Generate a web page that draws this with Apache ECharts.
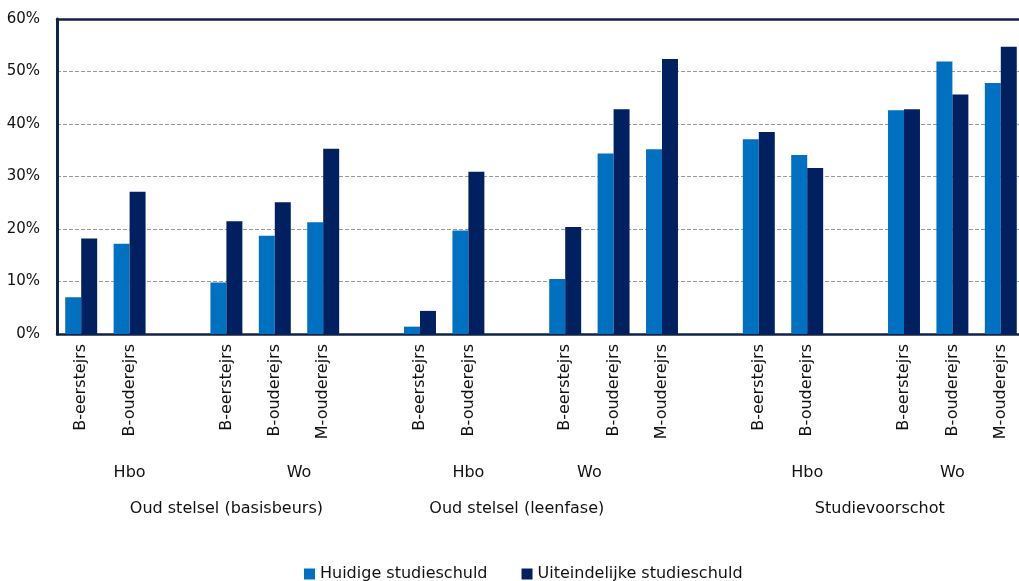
<!DOCTYPE html>
<html>
<head>
<meta charset="utf-8">
<script src="https://cdn.jsdelivr.net/npm/echarts@6/dist/echarts.min.js"></script>
<style>
html,body{margin:0;padding:0;background:#fff;}
#chart{width:1019px;height:581px;}
</style>
</head>
<body>
<div id="chart"></div>
<script>
// ---- data ----
const categories = ['B-eerstejrs','B-ouderejrs','','B-eerstejrs','B-ouderejrs','M-ouderejrs','',
  'B-eerstejrs','B-ouderejrs','','B-eerstejrs','B-ouderejrs','M-ouderejrs','',
  'B-eerstejrs','B-ouderejrs','','B-eerstejrs','B-ouderejrs','M-ouderejrs'];
const huidige = [7.0,17.2,null,9.8,18.7,21.3,null,1.4,19.7,null,10.5,34.4,35.2,null,37.1,34.1,null,42.6,51.9,47.8];
const uiteindelijke = [18.2,27.1,null,21.5,25.1,35.3,null,4.4,30.9,null,20.4,42.8,52.4,null,38.5,31.6,null,42.8,45.6,54.7];
const seriesNames = ['Huidige studieschuld','Uiteindelijke studieschuld'];
// label spans (category index ranges)
const level2 = [
  {name:'Hbo', from:0, to:2}, {name:'Wo', from:3, to:6},
  {name:'Hbo', from:7, to:9}, {name:'Wo', from:10, to:11},
  {name:'Hbo', from:14, to:16}, {name:'Wo', from:17, to:19}
];
const level1 = [
  {name:'Oud stelsel (basisbeurs)', from:0, to:6},
  {name:'Oud stelsel (leenfase)', from:7, to:11},
  {name:'Studievoorschot', from:14, to:19}
];
const yTicks = {min:0, max:60, interval:10};

// half-step label axes (2n+1 slots, boundaryGap false)
function spanAxisData(spans){
  const arr = new Array(categories.length*2+1).fill('');
  spans.forEach(s => { arr[s.from + s.to + 1] = s.name; });
  return arr;
}

const FONT = 'DejaVu Sans';
const NAVY = '#0F2447';
const chart = echarts.init(document.getElementById('chart'));
const labelAxis = (data, offset) => ({
  type:'category', data, boundaryGap:false, position:'bottom', offset,
  axisLine:{show:false}, axisTick:{show:false}, splitLine:{show:false},
  axisLabel:{interval:0, margin:0, color:'#111', fontFamily:FONT, fontSize:16}
});
chart.setOption({
  animation:false,
  grid:{left:57, top:19, width:968, height:315, outerBoundsMode:'none', containLabel:false},
  legend:{
    data:seriesNames, left:299, top:561, itemWidth:11, itemHeight:11, itemGap:34,
    icon:'rect', textStyle:{fontFamily:FONT, fontSize:16, color:'#111'}
  },
  xAxis:[
    {
      type:'category', data:categories, position:'bottom',
      axisLine:{lineStyle:{color:NAVY, width:2.5}}, axisTick:{show:false},
      axisLabel:{interval:0, rotate:90, margin:10, color:'#111', fontFamily:FONT, fontSize:16}
    },
    {
      type:'category', data:categories, position:'top',
      axisLine:{lineStyle:{color:NAVY, width:2.5}}, axisTick:{show:false}, axisLabel:{show:false}
    },
    labelAxis(spanAxisData(level2), 131),
    labelAxis(spanAxisData(level1), 167)
  ],
  yAxis:{
    type:'value', min:yTicks.min, max:yTicks.max, interval:yTicks.interval,
    axisLine:{show:true, lineStyle:{color:NAVY, width:3}}, axisTick:{show:false},
    axisLabel:{formatter:'{value}%', margin:17, color:'#111', fontFamily:FONT, fontSize:15},
    splitLine:{lineStyle:{color:'#9a9a9a', type:[4,2], width:1}}
  },
  series:[
    {name:seriesNames[0], type:'bar', data:huidige, barGap:'0%', barCategoryGap:'34%',
     itemStyle:{color:'#0070C0'}},
    {name:seriesNames[1], type:'bar', data:uiteindelijke, barGap:'0%', barCategoryGap:'34%',
     itemStyle:{color:'#002060'}}
  ]
});
</script>
</body>
</html>
